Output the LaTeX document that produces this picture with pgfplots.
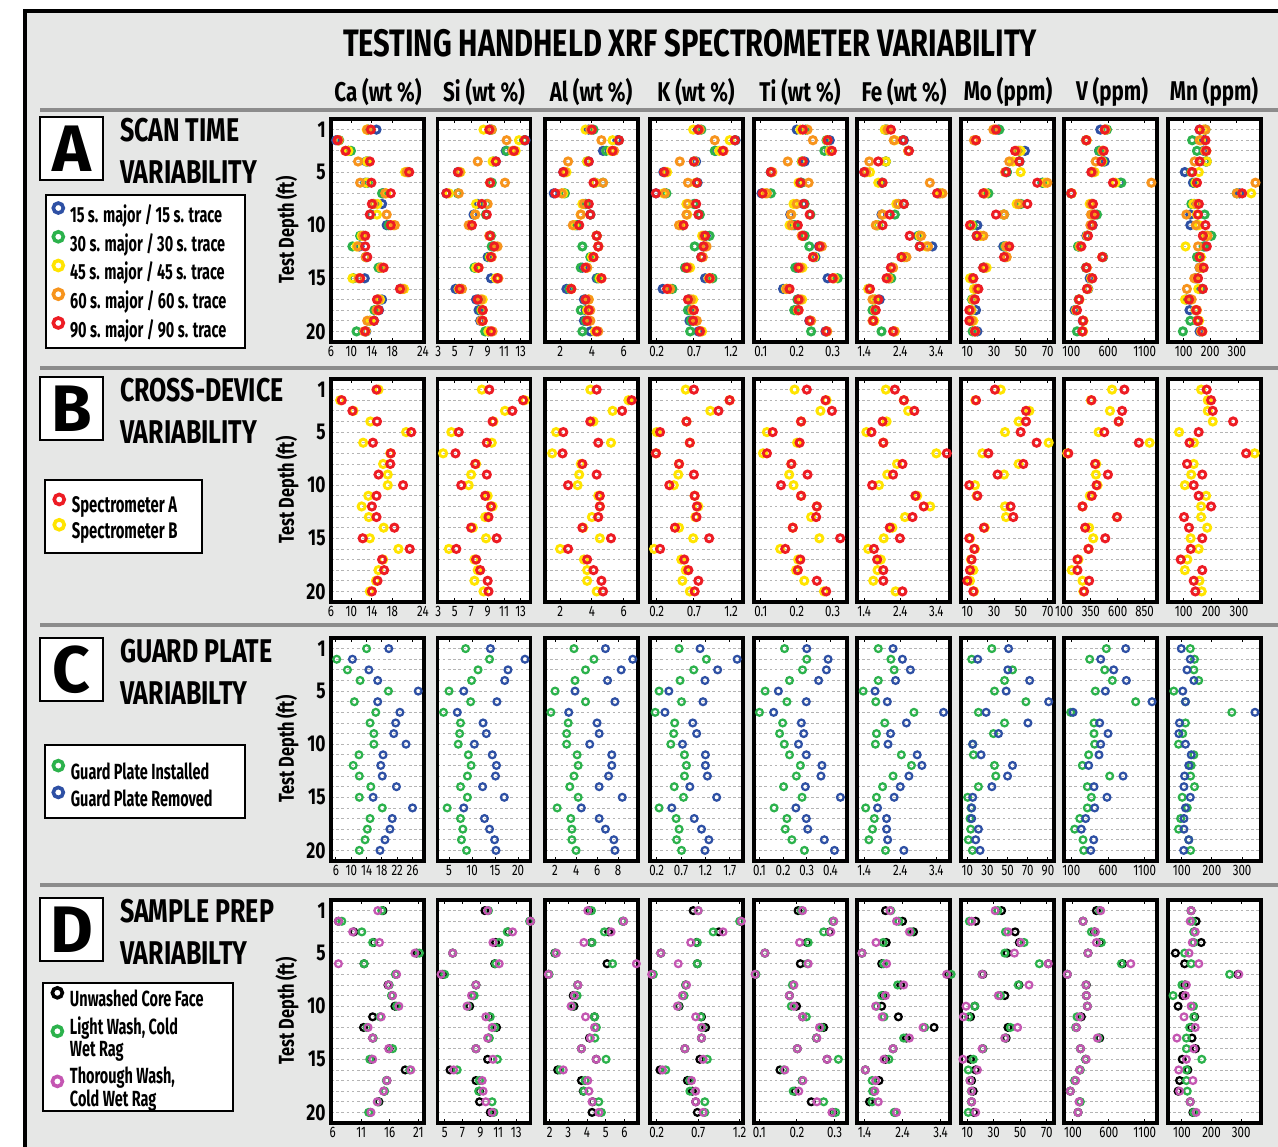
\documentclass[border=0pt]{standalone}
\usepackage{fontspec}
\setmainfont{Fira Sans}[FakeStretch=0.76]
\newfontfamily\widefont{Fira Sans}
\newfontfamily\legfont{Fira Sans}[FakeStretch=0.66]
\usepackage{pgfplots}
\usepackage{pgfplotstable}
\pgfplotsset{compat=1.18}

\definecolor{cB}{RGB}{46,80,164}
\definecolor{cG}{RGB}{44,178,76}
\definecolor{cY}{RGB}{255,228,0}
\definecolor{cO}{RGB}{247,148,29}
\definecolor{cR}{RGB}{237,28,36}
\definecolor{cK}{RGB}{0,0,0}
\definecolor{cM}{RGB}{196,86,178}
\definecolor{bg}{RGB}{230,231,230}
\definecolor{sepgray}{RGB}{140,140,140}
\definecolor{gridgray}{RGB}{180,180,180}

% ---------------- A: scan time (b g y o r = 15/30/45/60/90 s) ----------------
\pgfplotstableread{
d b g y o r
1 14.9 13.3 13.0 13.1 13.8
2 7.0 7.6 7.4 7.5 7.3
3 9.4 9.9 9.4 8.8 8.9
4 12.9 13.2 13.0 11.3 13.6
5 21.0 21.1 20.5 20.8 21.3
6 12.7 13.2 12.9 11.7 13.9
7 16.2 16.0 16.8 16.6 17.7
8 16.0 14.4 15.1 14.3 14.0
9 13.8 13.7 15.0 16.9 13.6
10 16.9 17.3 18.2 18.5 17.7
11 12.3 11.7 12.0 12.3 12.7
12 11.6 10.2 11.0 11.3 12.7
13 13.0 12.8 12.9 12.8 13.1
14 15.6 15.3 15.8 15.9 16.3
15 12.6 10.4 10.2 11.4 11.7
16 19.6 19.7 20.3 20.0 19.5
17 16.0 15.2 15.6 15.3 15.0
18 15.4 14.5 15.0 14.9 15.3
19 14.4 13.6 13.7 13.1 14.4
20 12.9 11.0 12.8 12.5 12.7
}\tACa
\pgfplotstableread{
d b g y o r
1 9.3 9.5 8.5 9.5 9.2
2 13.6 13.4 12.8 11.3 13.5
3 11.2 11.3 12.4 12.0 12.2
4 10.0 9.7 9.6 7.8 10.0
5 5.4 5.5 5.7 5.6 5.4
6 9.4 9.5 9.3 11.1 9.3
7 4.0 5.4 4.3 5.5 4.0
8 7.8 8.9 7.6 9.0 8.3
9 7.3 8.8 7.5 7.5 8.9
10 7.0 7.0 6.9 6.7 7.1
11 9.3 9.4 9.3 9.2 9.3
12 9.7 9.5 9.9 10.2 9.8
13 9.0 9.2 9.3 9.5 9.4
14 7.5 7.4 7.6 7.9 7.9
15 9.4 10.1 10.0 10.3 10.2
16 5.1 5.8 5.5 5.9 5.6
17 7.6 7.9 8.4 8.2 7.8
18 7.9 8.2 8.3 8.4 8.4
19 8.1 8.3 8.4 8.2 8.4
20 9.1 8.7 9.1 9.6 9.4
}\tASi
\pgfplotstableread{
d b g y o r
1 3.8 4.1 3.6 3.9 4.0
2 5.6 5.7 5.3 4.6 5.7
3 4.7 4.9 5.2 5.4 5.3
4 3.8 3.7 3.7 2.5 3.8
5 2.2 2.3 2.4 2.3 2.2
6 4.2 4.7 4.2 4.7 4.1
7 1.6 2.3 2.2 2.1 1.7
8 3.6 3.6 3.4 3.5 3.8
9 3.9 3.9 3.3 3.3 3.9
10 3.1 3.0 2.9 2.8 3.2
11 4.3 4.3 4.3 4.3 4.3
12 4.4 3.4 4.4 4.4 4.4
13 4.0 3.9 4.0 4.1 4.1
14 3.4 3.3 3.7 3.7 3.6
15 4.3 4.4 4.5 4.6 4.6
16 2.4 2.6 2.7 2.7 2.7
17 3.5 3.6 3.8 3.8 3.6
18 3.6 3.3 3.7 3.9 3.8
19 3.5 3.6 3.8 3.9 3.7
20 3.9 3.4 4.2 4.4 4.3
}\tAAl
\pgfplotstableread{
d b g y o r
1 0.75 0.80 0.69 0.78 0.76
2 1.26 1.25 1.18 0.98 1.25
3 0.99 0.98 1.04 1.10 1.09
4 0.73 0.70 0.71 0.51 0.70
5 0.29 0.31 0.34 0.32 0.30
6 0.75 0.74 0.73 0.62 0.74
7 0.19 0.33 0.29 0.31 0.19
8 0.71 0.70 0.60 0.62 0.73
9 0.77 0.78 0.61 0.60 0.76
10 0.55 0.55 0.53 0.50 0.56
11 0.86 0.91 0.81 0.83 0.85
12 0.83 0.71 0.85 0.87 0.83
13 0.80 0.80 0.81 0.82 0.80
14 0.61 0.58 0.65 0.62 0.60
15 0.85 0.95 0.90 0.92 0.91
16 0.28 0.41 0.36 0.38 0.34
17 0.63 0.64 0.69 0.66 0.62
18 0.66 0.62 0.68 0.68 0.70
19 0.64 0.66 0.72 0.74 0.69
20 0.76 0.65 0.81 0.79 0.78
}\tAK
\pgfplotstableread{
d b g y o r
1 0.200 0.225 0.210 0.230 0.217
2 0.292 0.283 0.285 0.245 0.286
3 0.290 0.277 0.292 0.295 0.298
4 0.222 0.214 0.215 0.175 0.217
5 0.128 0.128 0.130 0.132 0.128
6 0.212 0.213 0.205 0.233 0.210
7 0.102 0.128 0.112 0.117 0.105
8 0.218 0.222 0.191 0.200 0.220
9 0.182 0.238 0.185 0.184 0.236
10 0.190 0.195 0.180 0.186 0.203
11 0.220 0.222 0.215 0.214 0.217
12 0.262 0.235 0.266 0.270 0.264
13 0.252 0.250 0.248 0.246 0.245
14 0.200 0.196 0.216 0.210 0.205
15 0.286 0.314 0.305 0.303 0.300
16 0.162 0.172 0.170 0.172 0.180
17 0.203 0.202 0.215 0.210 0.205
18 0.200 0.193 0.203 0.205 0.205
19 0.235 0.238 0.238 0.240 0.236
20 0.280 0.240 0.284 0.285 0.282
}\tATi
\pgfplotstableread{
d b g y o r
1 1.98 2.02 1.97 2.05 2.14
2 2.50 2.47 2.25 2.22 2.48
3 2.63 2.63 2.62 2.62 2.64
4 2.00 2.00 2.00 1.54 1.79
5 1.40 1.44 1.56 1.45 1.40
6 1.88 1.90 1.79 3.22 1.91
7 3.45 3.50 3.50 3.57 3.42
8 2.35 2.50 2.29 2.34 2.50
9 1.88 2.25 1.92 1.90 2.11
10 1.75 1.78 1.76 1.72 1.91
11 2.90 2.92 2.94 2.98 2.66
12 3.29 2.94 3.12 3.17 2.94
13 2.50 2.52 2.53 2.57 2.43
14 2.16 2.16 2.20 2.20 2.14
15 2.10 2.15 2.08 2.07 2.02
16 1.52 1.53 1.51 1.54 1.56
17 1.83 1.70 1.68 1.63 1.79
18 1.68 1.63 1.70 1.70 1.72
19 1.66 1.67 1.68 1.63 1.65
20 2.22 1.88 2.25 2.24 2.20
}\tAFe
\pgfplotstableread{
d b g y o r
1 33.0 33.9 30.5 29.4 31.4
2 16.0 16.0 16.5 15.0 16.5
3 53.0 48.5 49.8 47.0 45.6
4 49.0 48.8 44.0 41.3 48.8
5 39.5 39.5 49.8 38.2 38.9
6 66.0 66.2 68.0 69.7 62.2
7 22.5 25.7 23.5 23.0 21.9
8 48.0 50.0 46.8 48.5 54.8
9 37.0 37.5 37.0 37.4 31.4
10 17.5 14.0 13.0 12.5 12.0
11 17.5 17.0 20.0 22.0 17.0
12 36.9 38.0 39.0 39.0 41.3
13 38.5 38.0 39.0 39.4 37.4
14 22.5 22.0 24.4 23.0 21.9
15 13.0 13.5 12.0 14.0 14.5
16 16.0 16.5 15.0 17.0 18.2
17 15.0 13.5 14.0 14.5 15.7
18 16.5 13.0 13.0 12.5 11.5
19 12.5 13.0 14.5 13.5 11.5
20 17.5 14.0 15.5 16.0 15.7
}\tAMo
\pgfplotstableread{
d b g y o r
1 495 586 560 570 555
2 300 305 310 300 305
3 477 480 530 520 541
4 555 530 520 432 509
5 380 380 418 395 373
6 770 782 700 1191 668
7 95 100 105 100 100
8 380 380 350 370 395
9 390 450 390 368 418
10 390 380 375 360 386
11 305 320 315 320 327
12 200 191 215 220 236
13 532 530 525 520 523
14 305 300 310 310 305
15 350 380 370 375 386
16 330 320 325 314 314
17 205 200 210 205 205
18 145 160 165 170 177
19 255 260 265 262 259
20 250 177 260 255 250
}\tAV
\pgfplotstableread{
d b g y o r
1 160 182 175 182 160
2 175 132 165 160 182
3 175 150 185 180 185
4 187 182 187 141 160
5 104 128 157 130 132
6 135 142 145 370 150
7 310 300 354 300 320
8 140 129 136 150 157
9 125 179 150 110 154
10 125 150 157 146 182
11 180 204 185 190 172
12 180 175 107 154 187
13 155 150 165 160 160
14 160 170 168 160 175
15 145 150 150 140 154
16 160 170 155 112 172
17 125 110 105 130 120
18 122 145 145 150 147
19 150 125 158 152 154
20 160 97 170 165 170
}\tAMn

% ---------------- B: cross-device (r = spectrometer A, y = spectrometer B) ----------------
\pgfplotstableread{
d r y
1 14.9 15.3
2 8.1 7.8
3 10.2 10.4
4 15.0 13.7
5 21.7 20.7
6 14.2 12.3
7 17.7 17.6
8 17.6 16.2
9 15.3 17.1
10 20.1 17.1
11 14.9 13.3
12 14.0 12.0
13 14.9 13.4
14 18.4 16.3
15 12.2 13.6
16 21.4 19.2
17 16.0 16.2
18 16.4 15.3
19 15.1 14.8
20 14.0 13.6
}\tBCa
\pgfplotstableread{
d r y
1 9.2 8.3
2 13.3 13.5
3 12.0 11.1
4 9.6 9.7
5 5.5 4.6
6 8.9 9.5
7 5.1 3.6
8 7.5 7.6
9 8.9 7.0
10 5.8 6.7
11 8.7 9.0
12 9.4 9.6
13 9.1 8.7
14 7.0 7.2
15 10.1 8.8
16 5.2 4.3
17 7.6 7.4
18 8.1 7.8
19 9.0 7.4
20 9.1 8.5
}\tBSi
\pgfplotstableread{
d r y
1 4.3 3.9
2 6.5 6.3
3 5.9 5.3
4 3.9 4.1
5 2.2 1.75
6 4.4 5.2
7 2.15 1.5
8 3.4 3.3
9 4.3 3.2
10 2.5 3.1
11 4.5 4.4
12 4.5 4.5
13 4.4 4.0
14 3.4 3.45
15 5.2 4.5
16 2.5 2.0
17 3.7 3.5
18 4.1 3.7
19 4.6 3.7
20 4.7 4.3
}\tBAl
\pgfplotstableread{
d r y
1 0.70 0.59
2 1.18 1.18
3 1.03 0.92
4 0.60 0.60
5 0.245 0.20
6 0.645 0.645
7 0.19 0.19
8 0.50 0.50
9 0.70 0.49
10 0.37 0.43
11 0.71 0.71
12 0.74 0.76
13 0.735 0.72
14 0.445 0.50
15 0.905 0.69
16 0.245 0.165
17 0.57 0.53
18 0.625 0.59
19 0.76 0.545
20 0.71 0.645
}\tBK
\pgfplotstableread{
d r y
1 0.228 0.194
2 0.280 0.283
3 0.298 0.266
4 0.212 0.212
5 0.133 0.117
6 0.208 0.201
7 0.117 0.106
8 0.185 0.185
9 0.230 0.179
10 0.156 0.191
11 0.212 0.212
12 0.256 0.256
13 0.254 0.240
14 0.189 0.189
15 0.321 0.263
16 0.168 0.154
17 0.210 0.204
18 0.203 0.198
19 0.256 0.221
20 0.282 0.276
}\tBTi
\pgfplotstableread{
d r y
1 2.25 2.00
2 2.50 2.50
3 2.79 2.62
4 1.91 2.02
5 1.60 1.46
6 1.93 1.93
7 3.69 3.40
8 2.46 2.31
9 2.20 2.04
10 1.62 1.81
11 2.82 2.87
12 3.05 3.23
13 2.74 2.53
14 2.11 2.18
15 2.39 1.94
16 1.67 1.51
17 1.76 1.86
18 1.93 1.77
19 1.93 1.65
20 2.46 2.27
}\tBFe
\pgfplotstableread{
d r y
1 30.6 34.9
2 16.5 16.0
3 53.8 56.3
4 53.8 48.3
5 49.8 38.1
6 61.7 70.7
7 25.7 21.2
8 51.8 48.3
9 32.6 37.4
10 11.5 15.7
11 17.5 17.0
12 42.3 38.1
13 44.3 38.9
14 22.4 23.0
15 11.5 12.0
16 15.2 15.7
17 13.2 12.7
18 12.0 14.5
19 10.0 12.0
20 14.5 15.0
}\tBMo
\pgfplotstableread{
d r y
1 662 547
2 356 350
3 641 528
4 609 609
5 475 422
6 797 897
7 140 130
8 390 400
9 509 397
10 403 412
11 359 340
12 272 272
13 594 594
14 297 334
15 484 372
16 328 328
17 225 234
18 225 172
19 334 272
20 287 280
}\tBV
\pgfplotstableread{
d r y
1 183 163
2 199 187
3 205 187
4 279 205
5 154 83
6 121 137
7 326 357
8 112 136
9 167 127
10 136 104
11 154 181
12 199 163
13 101 163
14 119 185
15 167 125
16 125 154
17 89 113
18 167 104
19 136 157
20 142 165
}\tBMn

% ---------------- C: guard plate (g = installed, b = removed) ----------------
\pgfplotstableread{
d g b
1 14.0 19.8
2 6.2 10.3
3 9.0 14.6
4 12.3 16.9
5 19.7 27.5
6 10.8 16.9
7 16.4 22.7
8 14.9 21.6
9 15.9 21.1
10 15.9 24.3
11 12.0 18.3
12 10.5 17.7
13 12.1 18.1
14 15.1 21.8
15 12.1 15.7
16 18.1 26.0
17 14.9 20.7
18 14.2 20.1
19 13.6 18.8
20 12.1 17.5
}\tCCa
\pgfplotstableread{
d g b
1 8.6 14.0
2 13.8 21.5
3 11.3 17.8
4 9.9 17.1
5 5.0 8.2
6 9.7 15.4
7 3.8 6.8
8 7.5 12.4
9 7.3 13.1
10 7.0 10.5
11 9.2 14.4
12 9.8 15.3
13 9.0 15.1
14 7.5 12.3
15 9.0 17.0
16 4.6 8.2
17 7.5 12.7
18 8.0 13.8
19 7.7 14.9
20 8.8 15.2
}\tCSi
\pgfplotstableread{
d g b
1 3.8 6.8
2 5.7 9.4
3 4.9 8.3
4 3.9 7.0
5 2.0 3.9
6 4.9 7.7
7 1.6 3.3
8 3.25 6.0
9 3.1 6.2
10 3.1 5.3
11 4.1 7.4
12 4.2 7.4
13 3.8 7.1
14 3.4 6.2
15 4.2 8.4
16 2.2 4.5
17 3.5 6.2
18 3.6 6.8
19 3.6 7.6
20 4.0 7.7
}\tCAl
\pgfplotstableread{
d g b
1 0.66 1.09
2 1.22 1.85
3 0.96 1.45
4 0.68 1.19
5 0.25 0.45
6 0.71 1.15
7 0.17 0.37
8 0.57 0.94
9 0.55 1.02
10 0.49 0.73
11 0.77 1.20
12 0.81 1.20
13 0.77 1.24
14 0.56 0.88
15 0.75 1.43
16 0.25 0.51
17 0.60 0.97
18 0.66 1.12
19 0.61 1.27
20 0.71 1.19
}\tCK
\pgfplotstableread{
d g b
1 0.206 0.300
2 0.300 0.390
3 0.282 0.383
4 0.227 0.350
5 0.124 0.180
6 0.216 0.298
7 0.100 0.160
8 0.198 0.277
9 0.185 0.287
10 0.205 0.265
11 0.227 0.298
12 0.273 0.364
13 0.256 0.360
14 0.202 0.294
15 0.280 0.442
16 0.162 0.254
17 0.216 0.298
18 0.209 0.304
19 0.237 0.374
20 0.290 0.417
}\tCTi
\pgfplotstableread{
d g b
1 1.79 2.20
2 2.14 2.46
3 2.23 2.68
4 1.79 2.27
5 1.37 1.70
6 1.72 2.04
7 2.78 3.60
8 1.97 2.57
9 1.74 2.13
10 1.71 2.06
11 2.43 2.87
12 2.71 3.00
13 2.20 2.64
14 1.91 2.40
15 1.74 2.23
16 1.44 1.77
17 1.68 2.02
18 1.63 2.02
19 1.53 2.05
20 1.99 2.50
}\tCFe
\pgfplotstableread{
d g b
1 34.3 50.9
2 14.3 20.3
3 54.8 50.2
4 46.9 71.8
5 36.9 48.5
6 68.1 90.7
7 21.0 28.6
8 46.9 70.1
9 35.9 40.9
10 15.3 15.3
11 16.0 23.6
12 36.9 54.8
13 38.2 49.9
14 21.0 34.3
15 10.3 15.3
16 13.7 14.3
17 12.7 14.3
18 13.3 21.0
19 11.0 18.3
20 15.0 22.6
}\tCMo
\pgfplotstableread{
d g b
1 577 841
2 350 500
3 555 677
4 659 850
5 427 564
6 977 1200
7 91 123
8 409 486
9 409 600
10 418 500
11 336 477
12 250 336
13 623 805
14 318 409
15 373 586
16 318 418
17 214 295
18 145 236
19 259 405
20 268 364
}\tCV
\pgfplotstableread{
d g b
1 128 98
2 142 128
3 140 117
4 156 140
5 73 103
6 112 112
7 266 343
8 112 92
9 103 90
10 89 112
11 140 131
12 131 123
13 129 109
14 142 107
15 101 128
16 118 112
17 96 107
18 89 107
19 123 123
20 129 106
}\tCMn

% ---------------- D: sample prep (k = unwashed, g = light wash, m = thorough wash) ----------------
\pgfplotstableread{
d k g m
1 14.8 14.6 13.9
2 7.0 7.6 7.0
3 9.7 11.1 9.5
4 13.2 13.0 14.2
5 20.7 21.2 20.4
6 11.5 11.5 7.0
7 17.1 17.0 17.2
8 15.7 15.9 15.8
9 16.4 16.3 16.5
10 16.9 17.2 17.6
11 13.0 14.3 14.5
12 11.4 12.0 12.2
13 13.0 13.1 13.0
14 15.9 16.5 15.8
15 12.8 12.5 13.0
16 18.7 19.5 19.7
17 15.5 15.4 15.5
18 15.0 15.1 14.9
19 14.1 13.9 13.8
20 12.6 12.3 12.7
}\tDCa
\pgfplotstableread{
d k g m
1 9.5 9.9 9.8
2 14.6 14.5 14.6
3 12.1 12.0 12.6
4 10.7 11.1 10.4
5 5.9 5.9 5.9
6 10.6 10.7 11.1
7 4.8 5.0 4.6
8 8.5 8.5 8.5
9 8.2 8.3 8.0
10 7.8 7.6 7.5
11 10.0 10.1 9.6
12 10.8 10.6 10.3
13 9.9 10.0 9.8
14 8.5 8.5 8.5
15 9.8 10.9 10.4
16 5.6 6.4 6.0
17 8.5 8.9 9.2
18 8.9 8.8 9.3
19 8.9 10.3 9.6
20 10.1 10.5 10.3
}\tDSi
\pgfplotstableread{
d k g m
1 4.10 4.24 4.04
2 5.95 5.90 5.96
3 5.16 4.93 5.29
4 4.25 4.27 3.83
5 2.28 2.30 2.36
6 5.07 5.37 6.64
7 1.95 1.96 1.93
8 3.50 3.50 3.51
9 3.26 3.47 3.32
10 3.30 3.20 3.15
11 4.40 4.40 3.92
12 4.45 4.50 4.40
13 4.13 4.42 4.18
14 3.70 3.70 3.70
15 4.49 5.02 4.49
16 2.43 2.55 2.73
17 3.70 3.90 4.04
18 3.80 3.83 4.10
19 4.30 4.63 4.27
20 4.27 4.77 4.63
}\tDAl
\pgfplotstableread{
d k g m
1 0.64 0.70 0.70
2 1.21 1.20 1.22
3 0.95 0.88 1.00
4 0.68 0.69 0.61
5 0.25 0.25 0.25
6 0.69 0.69 0.46
7 0.15 0.16 0.14
8 0.55 0.55 0.56
9 0.52 0.53 0.51
10 0.47 0.46 0.45
11 0.74 0.73 0.67
12 0.79 0.75 0.74
13 0.74 0.74 0.74
14 0.54 0.54 0.54
15 0.72 0.81 0.76
16 0.24 0.31 0.27
17 0.57 0.60 0.62
18 0.63 0.60 0.67
19 0.67 0.78 0.67
20 0.69 0.78 0.76
}\tDK
\pgfplotstableread{
d k g m
1 0.203 0.212 0.215
2 0.297 0.295 0.298
3 0.287 0.271 0.290
4 0.227 0.230 0.207
5 0.115 0.115 0.115
6 0.209 0.228 0.230
7 0.090 0.091 0.089
8 0.190 0.188 0.192
9 0.180 0.180 0.180
10 0.199 0.185 0.192
11 0.215 0.225 0.215
12 0.271 0.265 0.260
13 0.252 0.252 0.253
14 0.201 0.201 0.201
15 0.280 0.310 0.280
16 0.155 0.165 0.168
17 0.214 0.214 0.216
18 0.195 0.190 0.205
19 0.238 0.271 0.253
20 0.295 0.303 0.293
}\tDTi
\pgfplotstableread{
d k g m
1 1.95 2.09 2.07
2 2.40 2.30 2.24
3 2.69 2.62 2.58
4 1.97 1.89 1.70
5 1.33 1.33 1.33
6 1.85 1.90 1.98
7 3.60 3.68 3.56
8 2.35 2.27 2.43
9 1.88 1.85 1.95
10 1.85 1.72 1.69
11 2.29 1.91 1.86
12 3.23 2.98 2.94
13 2.50 2.43 2.58
14 2.15 2.15 2.15
15 1.95 2.04 1.91
16 1.42 1.42 1.42
17 1.78 1.60 1.69
18 1.65 1.61 1.67
19 1.53 1.60 1.76
20 2.20 2.18 2.24
}\tDFe
\pgfplotstableread{
d k g m
1 35.9 33.0 31.0
2 16.3 11.5 13.2
3 46.1 38.8 40.7
4 49.3 52.9 50.3
5 40.0 38.3 45.6
6 71.2 64.4 71.2
7 21.7 21.0 21.2
8 49.0 48.5 56.6
9 38.3 35.0 33.4
10 15.6 15.6 9.0
11 12.4 11.0 7.0
12 40.7 42.5 48.0
13 39.3 38.5 38.3
14 21.7 21.7 21.2
15 12.4 14.5 6.6
16 16.3 10.7 17.6
17 13.2 12.0 12.0
18 14.4 13.0 13.2
19 13.2 13.0 13.2
20 15.0 10.7 16.3
}\tDMo
\pgfplotstableread{
d k g m
1 426 470 486
2 240 240 240
3 400 356 412
4 480 495 426
5 309 309 309
6 790 774 905
7 21 21 21
8 286 280 280
9 286 286 286
10 300 300 300
11 216 156 195
12 147 137 147
13 472 455 440
14 205 202 205
15 277 275 284
16 193 202 193
17 130 123 137
18 63 63 63
19 195 202 184
20 170 170 170
}\tDV
\pgfplotstableread{
d k g m
1 131 131 131
2 148 135 128
3 142 140 145
4 165 140 135
5 78 109 124
6 109 131 157
7 289 261 292
8 110 100 115
9 103 70 112
10 87 139 131
11 143 140 107
12 131 126 145
13 134 115 83
14 146 115 140
15 101 167 115
16 120 115 89
17 92 115 137
18 87 118 92
19 128 128 128
20 137 140 148
}\tDMn

\pgfplotsset{
  panel/.style={
    scale only axis, width=46.5bp, height=111.5bp, anchor=north west,
    y dir=reverse, ymin=0, ymax=21,
    ytick={1,...,20}, yticklabels={},
    ymajorgrids,
    grid style={dash pattern=on 1.3bp off 1.3bp, line width=0.4bp, color=gridgray},
    ytick style={draw=none},
    xtick style={line width=0.5bp, black},
    tick align=inside, major tick length=2.2bp,
    axis line style={line width=1.6bp},
    axis background/.style={fill=white},
    clip=false, scaled ticks=false,
    /pgf/number format/assume math mode=true,
    /pgf/number format/1000 sep={},
    xticklabel style={font=\fontsize{7.6}{8}\selectfont, inner sep=1bp, yshift=-0.8bp},
    legend cell align=left,
    legend image code/.code={\draw[##1, mark size=2.5bp, mark options={line width=1.8bp, solid}] plot coordinates {(2.8bp,3.4bp)};},
  },
  firstcol/.style={
    yticklabels={1,,,,5,,,,,10,,,,,15,,,,,20},
    yticklabel style={font=\bfseries\fontsize{11.5}{12}\selectfont, inner sep=1bp, xshift=-1.5bp},
  },
  ringL/.style={only marks, mark=o, mark size=1.8bp, mark options={line width=1.45bp, solid}},
  ringS/.style={only marks, mark=o, mark size=1.7bp, mark options={line width=1.12bp, solid}},
  legA/.style={
    legend entries={{15 s. major / 15 s. trace},{30 s. major / 30 s. trace},{45 s. major / 45 s. trace},{60 s. major / 60 s. trace},{90 s. major / 90 s. trace}},
    legend style={at={(axis description cs:-2.99,0.625)}, anchor=north west, draw=none, fill=none, inner sep=0bp,
      font=\legfont\bfseries\fontsize{11}{10}\selectfont, row sep=3.25bp, column sep=3.4bp,
      nodes={inner sep=0bp}},
  },
  legB/.style={
    legend entries={Spectrometer B, Spectrometer A}, reverse legend,
    legend style={at={(axis description cs:-2.98,0.484)}, anchor=north west, draw=none, fill=none, inner sep=0bp,
      font=\legfont\bfseries\fontsize{11.3}{10}\selectfont, row sep=2.0bp, column sep=3.8bp,
      nodes={inner sep=0bp}},
  },
  legC/.style={
    legend entries={Guard Plate Installed, Guard Plate Removed},
    legend style={at={(axis description cs:-2.99,0.452)}, anchor=north west, draw=none, fill=none, inner sep=0bp,
      font=\legfont\bfseries\fontsize{11}{10}\selectfont, row sep=2.6bp, column sep=3.8bp,
      nodes={inner sep=0bp}},
  },
  legD/.style={
    legend entries={{Unwashed Core Face},{Light Wash, Cold\\Wet Rag},{Thorough Wash,\\Cold Wet Rag}},
    legend style={at={(axis description cs:-3.0,0.608)}, anchor=north west, draw=none, fill=none, inner sep=0bp,
      font=\legfont\bfseries\fontsize{11}{9}\selectfont, row sep=3.6bp, column sep=3.8bp,
      nodes={inner sep=0bp, align=left}},
  },
}

% one panel per element and block; #2 is the left edge and the top edge is fixed per block (in 0.5bp units)
\newcommand\RowA[6][]{%
  \begin{axis}[panel, at={({#2*0.5bp},{-119*0.5bp})}, xmin=#4, xmax=#5, xtick={#6}, #1]
    \addplot[ringL, color=cB] table[x=b, y=d]{#3};
    \addplot[ringL, color=cG] table[x=g, y=d]{#3};
    \addplot[ringL, color=cY] table[x=y, y=d]{#3};
    \addplot[ringL, color=cO] table[x=o, y=d]{#3};
    \addplot[ringL, color=cR] table[x=r, y=d]{#3};
  \end{axis}}
\newcommand\RowB[6][]{%
  \begin{axis}[panel, at={({#2*0.5bp},{-379*0.5bp})}, xmin=#4, xmax=#5, xtick={#6}, #1]
    \addplot[ringL, color=cY] table[x=y, y=d]{#3};
    \addplot[ringL, color=cR] table[x=r, y=d]{#3};
  \end{axis}}
\newcommand\RowC[6][]{%
  \begin{axis}[panel, at={({#2*0.5bp},{-638*0.5bp})}, xmin=#4, xmax=#5, xtick={#6}, #1]
    \addplot[ringS, color=cG] table[x=g, y=d]{#3};
    \addplot[ringS, color=cB] table[x=b, y=d]{#3};
  \end{axis}}
\newcommand\RowD[6][]{%
  \begin{axis}[panel, at={({#2*0.5bp},{-900*0.5bp})}, xmin=#4, xmax=#5, xtick={#6}, #1]
    \addplot[ringS, color=cK] table[x=k, y=d]{#3};
    \addplot[ringS, color=cG] table[x=g, y=d]{#3};
    \addplot[ringS, color=cM] table[x=m, y=d]{#3};
  \end{axis}}

\newcommand\Block[4]{% top, letter, heading line 1, heading line 2
  \draw[fill=white, line width=1.1bp] (40,#1) rectangle (103,#1+63);
  \node[font=\widefont\bfseries\fontsize{33}{33}\selectfont] at (71.5,#1+32) {#2};
  \node[anchor=west, font=\bfseries\fontsize{16.5}{17}\selectfont] at (113,#1+13) {#3};
  \node[anchor=west, font=\bfseries\fontsize{16.5}{17}\selectfont] at (113,#1+55) {#4};}
\newcommand\Head[2]{\node[font=\bfseries\fontsize{13.6}{15}\selectfont] at (#1,92) {#2};}

\begin{document}
\begin{tikzpicture}
 \begin{scope}[x=0.5bp, y=-0.5bp]
  \fill[white] (0,0) rectangle (1278,1147);
  \fill[bg] (25,11) rectangle (1300,1170);

  % block separators
  \foreach \yy in {110,368,625,885}
    \draw[line width=2bp, sepgray] (40,\yy) -- (1290,\yy);

  % title and column heads
  \node[font=\bfseries\fontsize{19.2}{21}\selectfont] at (690,43) {TESTING HANDHELD XRF SPECTROMETER VARIABILITY};
  \Head{378}{Ca (wt \%)}
  \Head{484}{Si (wt \%)}
  \Head{591}{Al (wt \%)}
  \Head{696}{K (wt \%)}
  \Head{800}{Ti (wt \%)}
  \Head{904}{Fe (wt \%)}
  \Head{1008}{Mo (ppm)}
  \Head{1112}{V (ppm)}
  \Head{1214}{Mn (ppm)}

  % block letters, headings and legend frames
  \Block{117}{A}{SCAN TIME}{VARIABILITY}
  \Block{377}{B}{CROSS-DEVICE}{VARIABILITY}
  \Block{638}{C}{GUARD PLATE}{VARIABILTY}
  \Block{898}{D}{SAMPLE PREP}{VARIABILTY}
  \draw[fill=white, line width=1.1bp] (46,195) rectangle (245,348);
  \draw[fill=white, line width=1.1bp] (45,480) rectangle (202,553);
  \draw[fill=white, line width=1.1bp] (45,745) rectangle (245,818);
  \draw[fill=white, line width=1.1bp] (43,983) rectangle (233,1111);

  \foreach \yc in {230,490,749,1011}
    \node[rotate=90, font=\bfseries\fontsize{10.8}{12}\selectfont] at (287,\yc) {Test Depth (ft)};
 \end{scope}

  % ---- A ----
  \RowA[firstcol,legA]{331}{\tACa}{6}{24.2}{6,10,14,18,24}
  \RowA{437.5}{\tASi}{2.92}{14.2}{3,5,7,9,11,13}
  \RowA{545}{\tAAl}{1.05}{6.9}{2,4,6}
  \RowA{650}{\tAK}{0.11}{1.36}{0.2,0.7,1.2}
  \RowA{754}{\tATi}{0.081}{0.34}{0.1,0.2,0.3}
  \RowA{857}{\tAFe}{1.2}{3.78}{1.4,2.4,3.4}
  \RowA{961}{\tAMo}{5.3}{74.7}{10,30,50,70}
  \RowA{1064}{\tAV}{0}{1268}{100,600,1100}
  \RowA{1168}{\tAMn}{41}{391}{100,200,300}
  % ---- B ----
  \RowB[firstcol,legB]{331}{\tBCa}{6}{24.2}{6,10,14,18,24}
  \RowB{437.5}{\tBSi}{2.92}{14.2}{3,5,7,9,11,13}
  \RowB{545}{\tBAl}{1.05}{6.9}{2,4,6}
  \RowB{650}{\tBK}{0.11}{1.36}{0.2,0.7,1.2}
  \RowB{754}{\tBTi}{0.081}{0.34}{0.1,0.2,0.3}
  \RowB{857}{\tBFe}{1.2}{3.78}{1.4,2.4,3.4}
  \RowB{961}{\tBMo}{5.3}{74.7}{10,30,50,70}
  \RowB{1064}{\tBV}{100}{966}{100,350,600,850}
  \RowB{1168}{\tBMn}{43}{380}{100,200,300}
  % ---- C ----
  \RowC[firstcol,legC]{331}{\tCCa}{4.7}{29}{6,10,14,18,22,26}
  \RowC{437.5}{\tCSi}{2.5}{22.7}{5,10,15,20}
  \RowC{545}{\tCAl}{1.04}{9.9}{2,4,6,8}
  \RowC{650}{\tCK}{0.064}{1.97}{0.2,0.7,1.2,1.7}
  \RowC{754}{\tCTi}{0.077}{0.47}{0.1,0.2,0.3,0.4}
  \RowC{857}{\tCFe}{1.2}{3.78}{1.4,2.4,3.4}
  \RowC{961}{\tCMo}{3.7}{96}{10,30,50,70,90}
  \RowC{1064}{\tCV}{0}{1268}{100,600,1100}
  \RowC{1168}{\tCMn}{54}{363}{100,200,300}
  % ---- D ----
  \RowD[firstcol,legD]{331}{\tDCa}{5.7}{22}{6,11,16,21}
  \RowD{437.5}{\tDSi}{4.2}{14.6}{5,7,9,11,13}
  \RowD{545}{\tDAl}{1.75}{6.73}{2,3,4,5,6}
  \RowD{650}{\tDK}{0.12}{1.24}{0.2,0.7,1.2}
  \RowD{754}{\tDTi}{0.086}{0.333}{0.1,0.2,0.3}
  \RowD{857}{\tDFe}{1.2}{3.65}{1.4,2.4,3.4}
  \RowD{961}{\tDMo}{5.2}{75.5}{10,30,50,70}
  \RowD{1064}{\tDV}{-25}{1270}{100,600,1100}
  \RowD{1168}{\tDMn}{53}{367}{100,200,300}

 \begin{scope}[x=0.5bp, y=-0.5bp]
  % outer frame
  \draw[line width=1.6bp] (25,11) rectangle (1300,1170);
  \pgfresetboundingbox
  \useasboundingbox (0,0) rectangle (1278,1147);
 \end{scope}
\end{tikzpicture}
\end{document}
